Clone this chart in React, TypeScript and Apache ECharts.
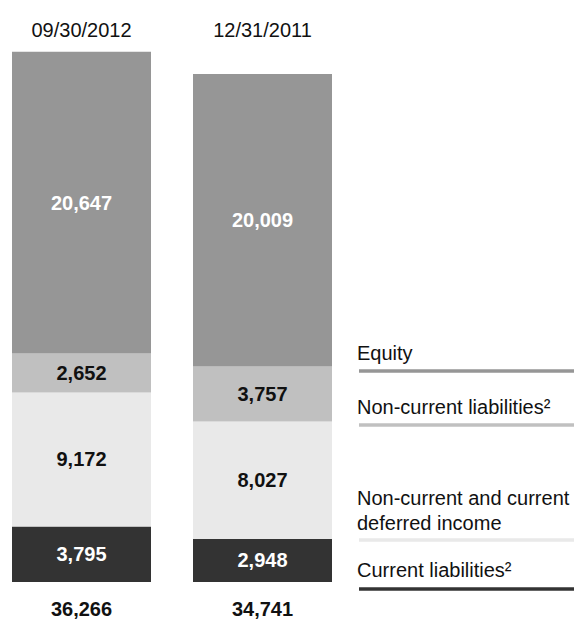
import React, { useEffect, useRef } from "react";
import * as echarts from "echarts";

const categories = ["09/30/2012", "12/31/2011"];
const seriesNames = [
  "Current liabilities²",
  "Non-current and current\ndeferred income",
  "Non-current liabilities²",
  "Equity",
];
const currentLiabilities = [3795, 2948];
const deferredIncome = [9172, 8027];
const nonCurrentLiabilities = [2652, 3757];
const equity = [20647, 20009];

const seriesData = [currentLiabilities, deferredIncome, nonCurrentLiabilities, equity];
const colors = ["#333333", "#e9e9e9", "#c0c0c0", "#969696"];
const labelColors = ["#ffffff", "#111111", "#111111", "#ffffff"];

const FONT = '"Liberation Sans", Arial, Helvetica, sans-serif';
const fmt = (v: number) => v.toLocaleString("en-US");

export default function App() {
  const ref = useRef<HTMLDivElement>(null);

  useEffect(() => {
    if (!ref.current) return;
    const chart = echarts.init(ref.current, undefined, { renderer: "svg" });

    const totals = categories.map((_, i) =>
      seriesData.reduce((s, arr) => s + arr[i], 0)
    );
    const maxTotal = Math.max(...totals);

    // legend layout (top to bottom: Equity, Non-current, Deferred, Current)
    const legendOrder = [3, 2, 1, 0];
    const legendTextY = [353, 406.7, 510.5, 570];
    const legendLineY = [371, 425, 540, 589];
    const legendGraphics: any[] = [];
    legendOrder.forEach((si, k) => {
      legendGraphics.push({
        type: "text",
        x: 357,
        y: legendTextY[k],
        style: {
          text: seriesNames[si],
          font: `20px ${FONT}`,
          fill: "#111111",
          verticalAlign: "middle",
          align: "left",
          lineHeight: 25,
        },
      });
      legendGraphics.push({
        type: "line",
        shape: { x1: 359, y1: legendLineY[k], x2: 574, y2: legendLineY[k] },
        style: { stroke: colors[si], lineWidth: 3.5 },
      });
    });

    chart.setOption({
      animation: false,
      backgroundColor: "#ffffff",
      grid: { left: 81.5, right: 320.5, top: 51.7, bottom: 32.3, containLabel: false },
      xAxis: [
        {
          type: "category",
          position: "top",
          boundaryGap: false,
          data: categories,
          axisLine: { show: false },
          axisTick: { show: false },
          axisLabel: { fontSize: 20, fontFamily: FONT, color: "#111111", margin: 12 },
        },
        {
          type: "category",
          position: "bottom",
          boundaryGap: false,
          data: totals.map(fmt),
          axisLine: { show: false },
          axisTick: { show: false },
          axisLabel: {
            fontSize: 20,
            fontFamily: FONT,
            fontWeight: "bold",
            color: "#111111",
            margin: 17,
          },
        },
      ],
      yAxis: {
        type: "value",
        min: 0,
        max: maxTotal,
        show: false,
        splitLine: { show: false },
      },
      series: seriesData.map((d, i) => ({
        type: "bar",
        name: seriesNames[i],
        stack: "total",
        xAxisIndex: 0,
        barWidth: 139,
        clip: false,
        data: d,
        itemStyle: { color: colors[i] },
        label: {
          show: true,
          position: "inside",
          formatter: (p: any) => fmt(p.value),
          fontSize: 20,
          fontWeight: "bold",
          fontFamily: FONT,
          color: labelColors[i],
        },
      })),
      graphic: legendGraphics,
    });

    return () => chart.dispose();
  }, []);

  return (
    <div
      ref={ref}
      style={{ position: "absolute", left: 0, top: 0, width: 583, height: 619 }}
    />
  );
}
